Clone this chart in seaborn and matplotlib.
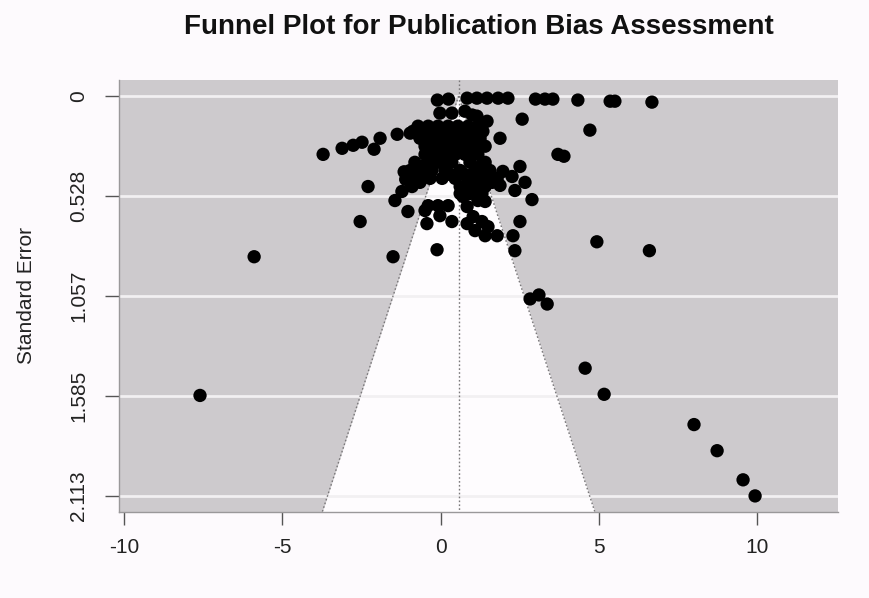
import numpy as np
import pandas as pd
import matplotlib
matplotlib.use("Agg")
import matplotlib.pyplot as plt
import seaborn as sns

# ---- study-level data: observed effect and its standard error ----
# most precise studies (top of the funnel)
top_effect = [-0.10, 0.25, 0.84, 1.15, 1.47, 1.82, 2.13, 3.00, 3.30, 3.55, 4.34, 5.36, 5.51, 6.68]
top_se = [0.021, 0.016, 0.011, 0.011, 0.011, 0.011, 0.011, 0.016, 0.016, 0.016, 0.021, 0.027, 0.027, 0.032]

row2_effect = [-0.02, 0.36, 0.77, 1.00, 1.15, 1.47, 2.58]
row2_se = [0.090, 0.090, 0.080, 0.100, 0.106, 0.133, 0.122]

# the dense central cluster
core_effect = [
    -0.71, -0.39, -0.08, 0.24, 0.55, 0.87, 1.18,
    -0.87, -0.55, -0.24, 0.08, 0.39, 0.71, 1.03, 1.34,
    -0.71, -0.08, 0.55, 1.18,
    -0.65, -0.33, -0.02, 0.30, 0.62, 0.93, 1.25,
    -0.49, -0.17, 0.14, 0.46, 0.77, 1.09, 1.41,
    -0.33, 0.30, 0.93,
    -0.49, -0.17, 0.14, 0.46, 0.77, 1.18,
    -0.81, -0.39, -0.02, 0.36, 0.93, 1.41,
    -0.59, 0.14, 1.25,
    -0.96, -0.65, -0.27, 0.14, 0.62, 1.09, 1.56,
    -0.49, 0.30, 0.77, 1.25, -1.15,
    -1.03, -0.71, -0.33, 0.05, 0.46, 0.93, 1.41, 1.79,
    -0.65, 0.87, 1.18, 1.63, -1.10,
    -0.90, 0.62, 1.00, 1.41,
    0.62, 0.93, 1.31,
]
core_se = (
    [0.159] * 7 + [0.186] * 8 + [0.202] * 4 + [0.223] * 7 + [0.265] * 7
    + [0.287] * 3 + [0.308] * 6 + [0.350] * 6 + [0.372] * 3 + [0.393] * 7
    + [0.414] * 4 + [0.400] + [0.435] * 8 + [0.456] * 4 + [0.440]
    + [0.478] * 4 + [0.515] * 3
)

left_effect = [-3.71, -3.11, -2.76, -2.48, -2.10, -1.91, -1.37, -0.96, -2.29, -1.22,
               -1.44, -1.03, -2.54, -1.50, -0.11, -5.89, -7.60, -0.49, -0.39, -0.08,
               0.24, -0.43, -0.02, 0.36]
left_se = [0.308, 0.276, 0.260, 0.244, 0.281, 0.223, 0.202, 0.196, 0.478, 0.504,
           0.552, 0.610, 0.663, 0.849, 0.812, 0.849, 1.582, 0.605, 0.579, 0.579,
           0.579, 0.674, 0.632, 0.663]

right_effect = [1.88, 4.72, 3.71, 3.90, 2.51, 2.26, 2.67, 2.35, 2.89, 2.51, 2.29, 2.35,
                4.94, 6.60, 2.83, 3.11, 3.37, 4.57, 5.17, 8.01, 8.74, 9.56, 9.94, 1.97,
                1.88, 0.71, 0.84, 1.03, 1.31, 1.50, 1.79, 1.18, 1.41, 0.84, 1.09, 1.41]
right_se = [0.223, 0.180, 0.308, 0.318, 0.372, 0.425, 0.456, 0.499, 0.547, 0.663, 0.738, 0.817,
            0.770, 0.817, 1.072, 1.051, 1.099, 1.438, 1.576, 1.736, 1.874, 2.028, 2.113, 0.398,
            0.472, 0.531, 0.584, 0.637, 0.663, 0.690, 0.738, 0.552, 0.557, 0.674, 0.711, 0.738]

pooled_estimate = 0.57
se_ticks = [0.0, 0.528, 1.057, 1.585, 2.113]
se_tick_labels = ["0", "0.528", "1.057", "1.585", "2.113"]
x_ticks = [-10, -5, 0, 5, 10]
x_tick_labels = ["-10", "-5", "0", "5", "10"]

df = pd.DataFrame({
    "effect": top_effect + row2_effect + core_effect + left_effect + right_effect,
    "se": top_se + row2_se + core_se + left_se + right_se,
})

# ---- figure ----
sns.set_style("white")
plt.rcParams["font.family"] = ["Liberation Sans", "DejaVu Sans"]

W, H = 870, 598
fig = plt.figure(figsize=(W / 100, H / 100), dpi=100, facecolor="#fdfafd")
ax = fig.add_axes([119 / W, 1 - 512 / H, (838 - 119) / W, (512 - 80) / H])
ax.set_facecolor("#cdcacd")

xlim = (-10.16, 12.56)
ylim = (2.198, -0.085)
ax.set_xlim(*xlim)
ax.set_ylim(*ylim)

# pseudo-confidence region (95%)
se_span = np.array([0.0, ylim[0]])
ax.fill_betweenx(se_span, pooled_estimate - 1.96 * se_span, pooled_estimate + 1.96 * se_span,
                 color="#fefcfe", lw=0, zorder=1)

# horizontal reference lines at the tick positions
for s in se_ticks:
    ax.axhline(s, color="#f2f0f2", lw=2.0, zorder=1.5)

# funnel edges and pooled estimate
dots = (0, (1.2, 1.6))
ax.plot(pooled_estimate - 1.96 * se_span, se_span, ls=dots, color="#7a787a", lw=1.0, zorder=2)
ax.plot(pooled_estimate + 1.96 * se_span, se_span, ls=dots, color="#7a787a", lw=1.0, zorder=2)
ax.plot([pooled_estimate, pooled_estimate], [ylim[1], ylim[0]], ls=dots,
        color="#7a787a", lw=1.0, zorder=2)

sns.scatterplot(data=df, x="effect", y="se", ax=ax, color="black", s=92,
                linewidth=0, edgecolor="none", zorder=3, legend=False)

# axes styling
for side in ["top", "right"]:
    ax.spines[side].set_visible(False)
for side in ["left", "bottom"]:
    ax.spines[side].set_color("#9a989a")
    ax.spines[side].set_linewidth(1.0)

ax.set_yticks(se_ticks)
ax.set_yticklabels(se_tick_labels, rotation=90, va="center")
ax.set_xticks(x_ticks)
ax.set_xticklabels(x_tick_labels)
ax.tick_params(axis="y", length=10, width=1.0, color="#555555", labelsize=15,
               labelcolor="#222222", pad=12, direction="out", left=True)
ax.tick_params(axis="x", length=9, width=1.0, color="#555555", labelsize=15,
               labelcolor="#222222", pad=10, direction="out", bottom=True)

ax.set_xlabel("")
ax.set_ylabel("Standard Error", fontsize=15, color="#222222", labelpad=24)
ax.grid(False)

fig.text((119 + 838) / 2 / W, 1 - 27 / H, "Funnel Plot for Publication Bias Assessment",
         ha="center", va="center", fontsize=20, fontweight="bold", color="#111111")

fig.savefig("out.png", dpi=100, facecolor=fig.get_facecolor())
